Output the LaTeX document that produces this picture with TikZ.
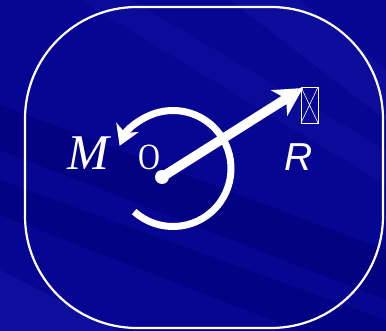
\documentclass[tikz,border=0pt]{standalone}
\usepackage{fontspec}
\setmainfont{Liberation Serif}
\newfontfamily\arialf{Liberation Sans}
\usetikzlibrary{arrows.meta,calc}
\definecolor{bgblue}{RGB}{6,6,146}
\definecolor{bgdark}{RGB}{0,0,120}
\definecolor{bglight}{RGB}{20,20,165}
\tikzset{
  frame/.style={draw=white,line width=2.2pt,rounded corners=112pt},
  vec/.style={draw=white,line width=9.5pt,-{Stealth[length=28pt,width=30pt,inset=8pt]}},
  moment/.style={draw=white,line width=7pt,-{Stealth[length=20pt,width=24pt,inset=6pt]}},
  lbl/.style={text=white,inner sep=0pt,anchor=base},
  tofu/.style={draw=white,line width=0.9pt}
}
\begin{document}
\begin{tikzpicture}[x=1pt,y=-1pt]
\useasboundingbox (0,0) rectangle (386,331);
% background with streaks
\fill[bgblue] (0,0) rectangle (386,331);
\fill[bgdark,opacity=0.6] (0,105) -- (0,150) -- (386,300) -- (386,250) -- cycle;
\fill[bgdark,opacity=0.5] (0,180) -- (0,215) -- (300,331) -- (386,331) -- (386,320) -- cycle;
\fill[bglight,opacity=0.6] (0,270) -- (0,331) -- (120,331) -- cycle;
\fill[bglight,opacity=0.5] (230,0) -- (300,0) -- (386,70) -- (386,120) -- cycle;
\fill[bglight,opacity=0.4] (80,0) -- (130,0) -- (386,150) -- (386,185) -- cycle;
% frame
\draw[frame] (25,7) rectangle (383,328);
% moment arc
\coordinate (C) at (173,168.5);
\draw[moment] ($(C)+(132:58)$) arc[start angle=132,end angle=-157,radius=58];
% resultant vector
\coordinate (O) at (162,177);
\coordinate (Rtip) at (303,88);
\draw[vec] (O) -- (Rtip);
\fill[white] (O) circle (7);
% labels
\node[lbl,font=\fontsize{50}{50}\selectfont\itshape] (M) at (88,170) {M};
\node[lbl,font=\fontsize{37}{37}\selectfont,xscale=0.82] (Olbl) at (149,170) {O};
\node[lbl,font=\fontsize{39}{39}\selectfont\arialf\itshape] (R) at (299,171) {R};
% missing glyph box
\coordinate (t1) at (301,87);
\coordinate (t2) at (318,123);
\draw[tofu] (t1) rectangle (t2);
\draw[tofu,line width=0.6pt] (301,87) -- (318,123) (318,87) -- (301,123);
\end{tikzpicture}
\end{document}
